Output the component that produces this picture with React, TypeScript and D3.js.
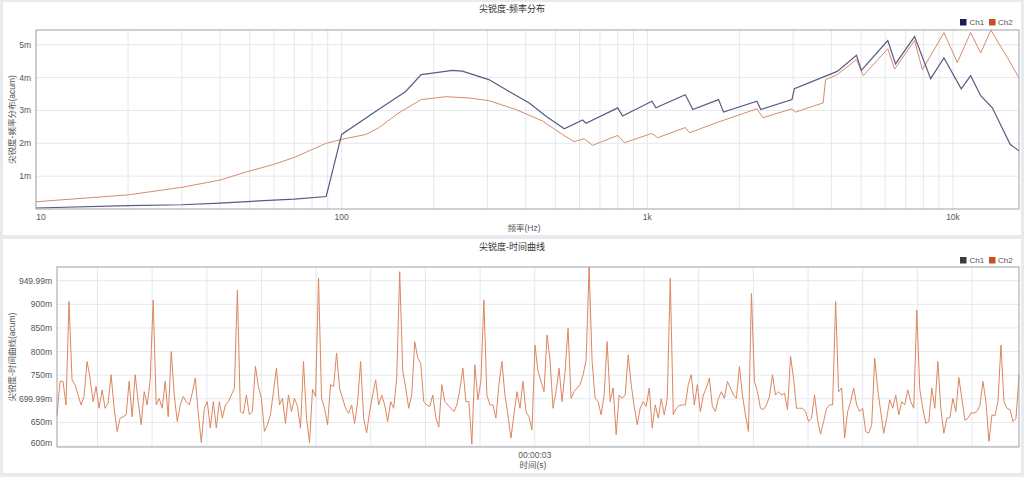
import * as d3 from 'd3';

// ---- frequency distribution (top panel), values in milli-acum ----
const FREQ_CH1 = [10, 20, 30, 40, 60, 70, 89, 100, 132, 162, 182, 193, 230, 248, 303, 353, 411, 465, 535, 614, 630, 800, 830, 1035, 1067, 1331, 1409, 1710, 1775, 2282, 2350, 2972, 3027, 4180, 4833, 5013, 6120, 6486, 7485, 8450, 9340, 10640, 11420, 12320, 13450, 15380, 16440];
const SHARP_CH1 = [0.03, 0.1, 0.13, 0.18, 0.27, 0.3, 0.38, 2.27, 3.03, 3.58, 4.09, 4.12, 4.22, 4.2, 3.94, 3.58, 3.23, 2.83, 2.44, 2.71, 2.61, 3.08, 2.83, 3.28, 3.08, 3.48, 3.03, 3.33, 2.95, 3.28, 3.03, 3.33, 3.66, 4.19, 4.68, 4.22, 5.13, 4.42, 5.25, 3.97, 4.6, 3.66, 4.06, 3.45, 3.08, 1.97, 1.77];
const FREQ_CH2 = [10, 20, 30, 40, 48, 60, 70, 89, 100, 120, 132, 154, 182, 219, 261, 303, 371, 454, 527, 576, 621, 662, 800, 841, 1035, 1081, 1331, 1374, 1710, 2282, 2388, 2972, 3048, 3760, 3828, 4180, 4833, 5086, 6120, 6440, 7485, 7940, 9340, 10330, 11420, 12320, 13300, 15080, 16440];
const SHARP_CH2 = [0.22, 0.43, 0.66, 0.88, 1.11, 1.36, 1.57, 2.0, 2.12, 2.27, 2.47, 2.93, 3.33, 3.42, 3.38, 3.3, 3.03, 2.68, 2.27, 2.05, 2.14, 1.94, 2.24, 2.02, 2.3, 2.17, 2.48, 2.32, 2.65, 3.05, 2.78, 3.05, 2.95, 3.23, 3.94, 4.09, 4.55, 4.06, 4.88, 4.26, 5.13, 4.24, 5.37, 4.46, 5.37, 4.75, 5.45, 4.6, 3.99];
const FREQ_TICKS = [10, 100, 1000, 10000];
const FREQ_TICK_LABELS = ['10', '100', '1k', '10k'];
const SHARP_TICKS = [1, 2, 3, 4, 5];
const SHARP_TICK_LABELS = ['1m', '2m', '3m', '4m', '5m'];

// ---- time curve (bottom panel), Ch2 only, milli-acum ----
const TIME_START = 2.126;
const TIME_STEP = 0.0055;
const TIME_CH2 = [
  665, 737, 737, 687, 906, 740, 730, 708, 687, 705,
  779, 744, 694, 726, 680, 719, 680, 691, 751, 680,
  631, 659, 662, 666, 737, 662, 751, 694, 645, 715,
  687, 740, 909, 687, 701, 680, 737, 662, 800, 708,
  652, 687, 705, 694, 687, 712, 744, 669, 607, 680,
  694, 638, 694, 638,
  694, 659, 687, 694, 708, 722, 930, 673, 669, 708,
  666, 673, 769, 726, 701, 631, 645, 666, 715, 765,
  687, 701, 648, 708, 673, 701, 684, 638, 779, 659,
  607, 720, 705, 956, 701, 680, 645, 730, 726, 797,
  722, 701, 680, 669, 687, 648, 694, 779, 659, 628,
  673, 708, 740,
  687, 708, 687, 652, 694, 680, 744, 969, 760, 723,
  680, 708, 821, 786, 775, 694, 687, 684, 708, 660,
  640, 730, 694, 687, 680, 673, 687, 719, 765, 694,
  694, 604, 772, 698, 737, 909, 708, 687, 687, 659,
  730, 779, 708, 666, 617, 666, 715, 680, 737, 673,
  662, 634, 814, 758,
  737, 715, 835, 782, 680, 715, 765, 694, 758, 849,
  701, 715, 723, 730, 751, 782, 979, 779, 701, 694,
  666, 708, 821, 694, 723, 624, 708, 701, 708, 793,
  730, 684, 645, 680, 694, 684, 723, 638, 687, 659,
  700, 666, 701, 955, 666, 680, 686, 687, 687, 730,
  751, 687, 730,
  673, 708, 723, 744, 684, 673, 701, 715, 701, 737,
  723, 708, 701, 768, 708, 666, 631, 923, 737, 715,
  680, 677, 687, 705, 751, 708, 715, 708, 712, 677,
  790, 744, 680, 680, 680, 673, 652, 659, 708, 655,
  625, 652, 680, 687, 687, 906, 715, 723, 617, 673,
  694, 723, 687,
  673, 680, 631, 627, 645, 786, 720, 673, 627, 659,
  698, 680, 708, 666, 694, 687, 719, 694, 680, 888,
  720, 680, 648, 652, 723, 680, 779, 680, 627, 659,
  660, 701, 673, 745, 700, 655, 659, 670, 670, 673,
  686, 737, 694, 610, 666, 664, 694, 814, 694, 680,
  677, 652, 659, 751,
];
const TIME_TICKS = [3];
const TIME_TICK_LABELS = ['00:00:03'];
const TIME_Y_TICKS = [600, 650, 700, 750, 800, 850, 900, 950];
const TIME_Y_LABELS = ['600m', '650m', '699.99m', '750m', '800m', '850m', '900m', '949.99m'];

const W = 1024;
const H = 477;
const FONT = "'Liberation Sans', 'Noto Sans CJK SC', sans-serif";
const GRID = '#e4e8ee';
const FRAME = '#9ea3aa';
const TEXT = '#555';

function Legend({ y, c1, c2 }: { y: number; c1: string; c2: string }) {
  return (
    <g fontSize={8} fill={TEXT} fontFamily={FONT}>
      <rect x={960} y={y - 3} width={6.5} height={6.5} fill={c1} />
      <text x={969.5} y={y + 3}>Ch1</text>
      <rect x={989} y={y - 3} width={6.5} height={6.5} fill={c2} />
      <text x={998} y={y + 3}>Ch2</text>
    </g>
  );
}

function FreqChart() {
  const m = { left: 36, right: 1019, top: 30, bottom: 209 };
  const x = d3.scaleLog().domain([10, 16440]).range([m.left, m.right]);
  const y = d3.scaleLinear().domain([0, 5.45]).range([m.bottom, m.top]);
  const line = d3.line<[number, number]>().x(d => x(d[0])).y(d => y(d[1]));
  const ch1 = FREQ_CH1.map((f, i) => [f, SHARP_CH1[i]] as [number, number]);
  const ch2 = FREQ_CH2.map((f, i) => [f, SHARP_CH2[i]] as [number, number]);

  return (
    <g fontFamily={FONT}>
      <rect x={3} y={2} width={1018} height={233} fill="#fff" />
      <text x={512} y={12} textAnchor="middle" fontSize={9} fill="#333">尖锐度-频率分布</text>
      <Legend y={22} c1="#1d1a5a" c2="#c8501f" />
      {x.ticks().map(t => (
        <line key={'v' + t} x1={x(t)} x2={x(t)} y1={m.top} y2={m.bottom} stroke={GRID} />
      ))}
      {SHARP_TICKS.map(t => (
        <line key={'h' + t} x1={m.left} x2={m.right} y1={y(t)} y2={y(t)} stroke={GRID} />
      ))}
      <path d={line(ch2) ?? ''} fill="none" stroke="#d68c6d" strokeWidth={1} />
      <path d={line(ch1) ?? ''} fill="none" stroke="#5a5a82" strokeWidth={1.2} />
      <rect x={m.left} y={m.top} width={m.right - m.left} height={m.bottom - m.top} fill="none" stroke={FRAME} />
      {SHARP_TICKS.map((t, i) => (
        <text key={'yl' + t} x={31} y={y(t) + 3} textAnchor="end" fontSize={8.5} fill={TEXT}>{SHARP_TICK_LABELS[i]}</text>
      ))}
      {FREQ_TICKS.map((t, i) => (
        <text key={'xl' + t} x={Math.max(x(t), m.left + 5)} y={220} textAnchor="middle" fontSize={8.5} fill={TEXT}>{FREQ_TICK_LABELS[i]}</text>
      ))}
      <text x={524} y={231} textAnchor="middle" fontSize={8.5} fill={TEXT}>频率(Hz)</text>
      <text transform={`translate(15,${(m.top + m.bottom) / 2}) rotate(-90)`} textAnchor="middle" fontSize={8.5} fill={TEXT}>尖锐度-频率分布(acum)</text>
    </g>
  );
}

function TimeChart() {
  const m = { left: 57, right: 1019, top: 267, bottom: 447 };
  const times = TIME_CH2.map((_, i) => TIME_START + i * TIME_STEP);
  const x = d3.scaleLinear().domain([TIME_START, times[times.length - 1]]).range([m.left, m.right]);
  const y = d3.scaleLinear().domain([598, 979]).range([m.bottom, m.top]);
  const line = d3.line<number>().x((_, i) => x(times[i])).y(d => y(d));

  return (
    <g fontFamily={FONT}>
      <rect x={3} y={239} width={1018} height={234} fill="#fff" />
      <text x={512} y={250} textAnchor="middle" fontSize={9} fill="#333">尖锐度-时间曲线</text>
      <Legend y={260} c1="#3b3b3b" c2="#c9521d" />
      {x.ticks(18).map(t => (
        <line key={'v' + t} x1={x(t)} x2={x(t)} y1={m.top} y2={m.bottom} stroke={GRID} />
      ))}
      {TIME_Y_TICKS.map(t => (
        <line key={'h' + t} x1={m.left} x2={m.right} y1={y(t)} y2={y(t)} stroke={GRID} />
      ))}
      <path d={line(TIME_CH2) ?? ''} fill="none" stroke="#dc875f" strokeWidth={1} strokeLinejoin="round" />
      <rect x={m.left} y={m.top} width={m.right - m.left} height={m.bottom - m.top} fill="none" stroke={FRAME} />
      {TIME_Y_TICKS.map((t, i) => (
        <text key={'yl' + t} x={52} y={Math.min(y(t) + 3, m.bottom - 1)} textAnchor="end" fontSize={8.5} fill={TEXT}>{TIME_Y_LABELS[i]}</text>
      ))}
      {TIME_TICKS.map((t, i) => (
        <text key={'xl' + t} x={x(t)} y={458} textAnchor="middle" fontSize={8.5} fill={TEXT}>{TIME_TICK_LABELS[i]}</text>
      ))}
      <text x={533} y={468} textAnchor="middle" fontSize={8.5} fill={TEXT}>时间(s)</text>
      <text transform={`translate(15,${(m.top + m.bottom) / 2}) rotate(-90)`} textAnchor="middle" fontSize={8.5} fill={TEXT}>尖锐度-时间曲线(acum)</text>
    </g>
  );
}

export default function App() {
  return (
    <svg width={W} height={H} style={{ position: 'absolute', left: 0, top: 0 }}>
      <rect width={W} height={H} fill="#e7ebee" />
      <FreqChart />
      <TimeChart />
    </svg>
  );
}
